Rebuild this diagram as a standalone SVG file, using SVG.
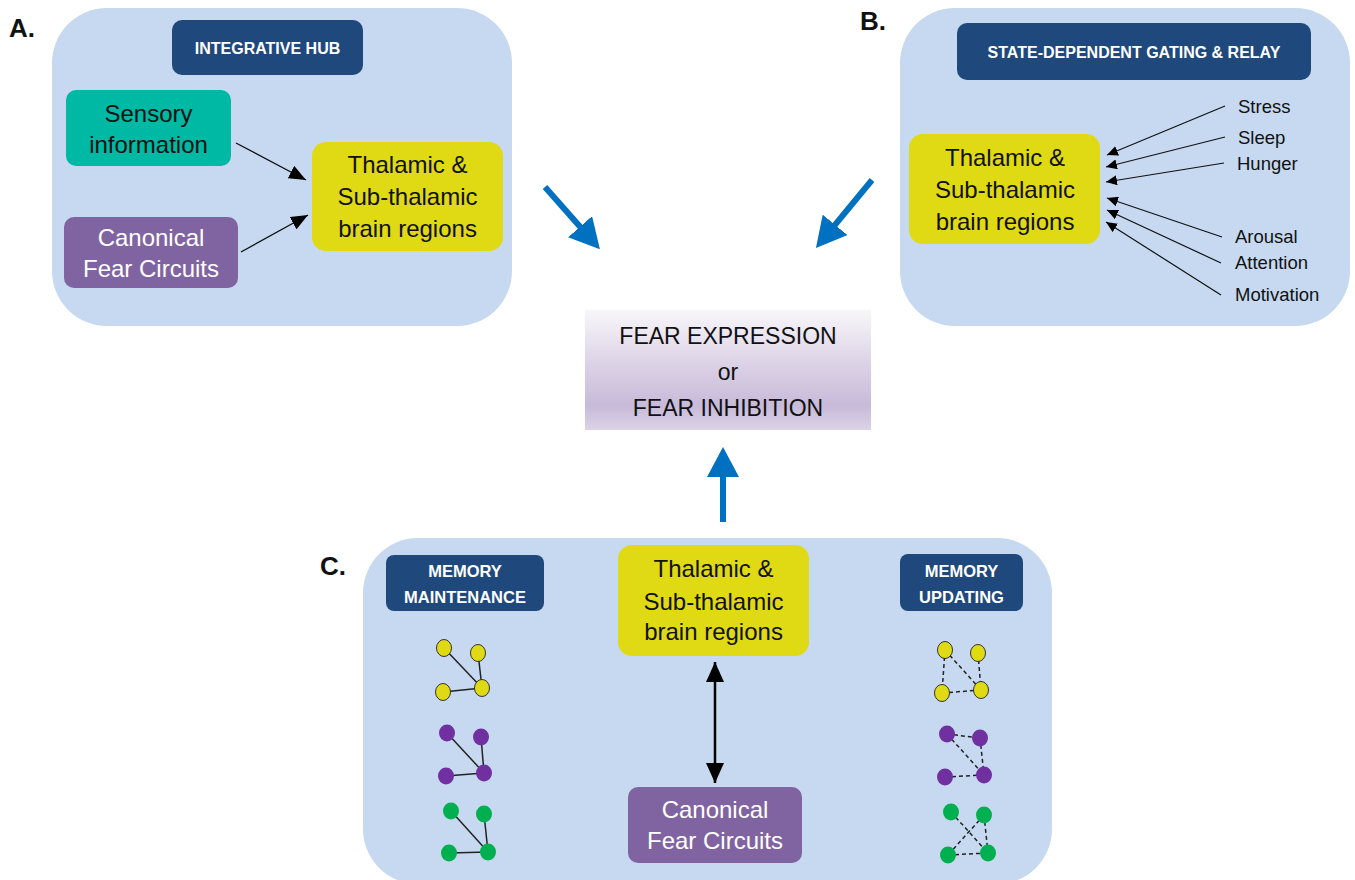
<svg xmlns="http://www.w3.org/2000/svg" width="1355" height="880" viewBox="0 0 1355 880">
<defs>
<style>
text{font-family:"Liberation Sans",Arial,sans-serif;text-anchor:middle}
.panel{fill:#C6D9F0}
.hdr{fill:#1F497D}
.hdrt{fill:#fff;font-weight:bold;font-size:16px}
.hdrc{fill:#fff;font-weight:bold;font-size:16.5px}
.thal{fill:#E0DA14}
.canon{fill:#8064A2}
.sens{fill:#00B9A5}
.big{font-size:24px;fill:#111}
.bigw{font-size:24px;fill:#fff}
.lab{font-size:18.5px;fill:#111;text-anchor:start}
.plab{font-size:26px;font-weight:bold;fill:#111;text-anchor:start}
.ctr{font-size:23px;fill:#111}
.blk{stroke:#111;stroke-width:1.4;fill:none}
.blkB{stroke:#111;stroke-width:1.2;fill:none}
.blue{stroke:#0070C0;stroke-width:6;fill:none}
.dbl{stroke:#000;stroke-width:2.5;fill:none}
.e{stroke:#222;stroke-width:1.5}
.ed{stroke:#222;stroke-width:1.5;stroke-dasharray:4 3}
.ny{fill:#E0DA14;stroke:#333;stroke-width:1}
.np{fill:#7030A0}
.ng{fill:#00B050}
</style>
<marker id="ahA" markerUnits="userSpaceOnUse" markerWidth="18" markerHeight="14" refX="17" refY="7" orient="auto"><path d="M0,0 L17,7 L0,14 z" fill="#000"/></marker>
<marker id="ahB" markerUnits="userSpaceOnUse" markerWidth="12" markerHeight="10" refX="11" refY="5" orient="auto"><path d="M0,0 L11,5 L0,10 z" fill="#000"/></marker>
<marker id="ahBlue" markerUnits="userSpaceOnUse" markerWidth="31" markerHeight="32" refX="15" refY="16" orient="auto"><path d="M0,0 L30,16 L0,32 z" fill="#0070C0"/></marker>
<marker id="ahD" markerUnits="userSpaceOnUse" markerWidth="21" markerHeight="18" refX="20" refY="9" orient="auto-start-reverse"><path d="M0,0 L20,9 L0,18 z" fill="#000"/></marker>
<linearGradient id="gCtr" x1="0" y1="0" x2="0" y2="1">
<stop offset="0" stop-color="#F8F6FA"/>
<stop offset="0.45" stop-color="#DCD2E6"/>
<stop offset="0.8" stop-color="#C8BAD9"/>
<stop offset="1" stop-color="#DCD3E6"/>
</linearGradient>
</defs>
<rect width="1355" height="880" fill="#fff"/>

<g id="panelA">
<rect class="panel" x="52" y="8" width="460" height="318" rx="55"/>
<text class="plab" x="9" y="37">A.</text>
</g>
<g id="panelB">
<rect class="panel" x="900" y="8" width="450" height="318" rx="55"/>
<text class="plab" x="860" y="30">B.</text>
</g>
<g id="panelC">
<rect class="panel" x="363" y="538" width="689" height="346" rx="55"/>
<text class="plab" x="320" y="575">C.</text>
</g>

<g id="hdrA"><rect class="hdr" x="172" y="20" width="191" height="55" rx="10"/><text class="hdrt" x="267.5" y="54">INTEGRATIVE HUB</text></g>
<g id="sensory"><rect class="sens" x="66" y="90" width="165" height="76" rx="10"/><text class="big" x="148.5" y="122">Sensory</text><text class="big" x="148.5" y="153">information</text></g>
<g id="canonA"><rect class="canon" x="64" y="217" width="174" height="71" rx="10"/><text class="bigw" x="151" y="246">Canonical</text><text class="bigw" x="151" y="277">Fear Circuits</text></g>
<g id="thalA"><rect class="thal" x="312" y="142" width="191" height="109" rx="14"/><text class="big" x="407.5" y="173">Thalamic &amp;</text><text class="big" x="407.5" y="205">Sub-thalamic</text><text class="big" x="407.5" y="237">brain regions</text></g>

<g id="hdrB"><rect class="hdr" x="957" y="23" width="354" height="57" rx="10"/><text class="hdrt" x="1134" y="58">STATE-DEPENDENT GATING &amp; RELAY</text></g>
<g id="thalB"><rect class="thal" x="909" y="134" width="191" height="110" rx="14"/><text class="big" x="1005" y="166">Thalamic &amp;</text><text class="big" x="1005" y="198">Sub-thalamic</text><text class="big" x="1005" y="230">brain regions</text></g>
<g id="stress"><text class="lab" x="1238" y="113">Stress</text></g>
<g id="sleep"><text class="lab" x="1238" y="144">Sleep</text></g>
<g id="hunger"><text class="lab" x="1237" y="170">Hunger</text></g>
<g id="arousal"><text class="lab" x="1235" y="243">Arousal</text></g>
<g id="attention"><text class="lab" x="1235" y="269">Attention</text></g>
<g id="motivation"><text class="lab" x="1235" y="301">Motivation</text></g>

<g id="outcome"><rect x="585" y="310" width="286" height="120" fill="url(#gCtr)"/><text class="ctr" x="728" y="344">FEAR EXPRESSION</text><text class="ctr" x="728" y="380">or</text><text class="ctr" x="728" y="416">FEAR INHIBITION</text></g>

<g id="hdrC1"><rect class="hdr" x="386" y="555" width="158" height="56" rx="8"/><text class="hdrc" x="465" y="577">MEMORY</text><text class="hdrc" x="465" y="603">MAINTENANCE</text></g>
<g id="hdrC2"><rect class="hdr" x="900" y="554" width="123" height="57" rx="8"/><text class="hdrc" x="961.5" y="577">MEMORY</text><text class="hdrc" x="961.5" y="603">UPDATING</text></g>
<g id="thalC"><rect class="thal" x="618" y="545" width="191" height="111" rx="14"/><text class="big" x="713.5" y="577">Thalamic &amp;</text><text class="big" x="713.5" y="610">Sub-thalamic</text><text class="big" x="713.5" y="640">brain regions</text></g>
<g id="canonC"><rect class="canon" x="628" y="787" width="174" height="76" rx="10"/><text class="bigw" x="715" y="818">Canonical</text><text class="bigw" x="715" y="849">Fear Circuits</text></g>

<g id="connectors">
<line class="blk" x1="236" y1="143" x2="306" y2="180" marker-end="url(#ahA)"/>
<line class="blk" x1="241" y1="252" x2="308" y2="215" marker-end="url(#ahA)"/>
<line class="blkB" x1="1225" y1="106" x2="1107" y2="155" marker-end="url(#ahB)"/>
<line class="blkB" x1="1225" y1="137" x2="1106" y2="167" marker-end="url(#ahB)"/>
<line class="blkB" x1="1224" y1="163" x2="1106" y2="182" marker-end="url(#ahB)"/>
<line class="blkB" x1="1222" y1="237" x2="1107" y2="198" marker-end="url(#ahB)"/>
<line class="blkB" x1="1221" y1="263" x2="1107" y2="210" marker-end="url(#ahB)"/>
<line class="blkB" x1="1221" y1="295" x2="1106" y2="222" marker-end="url(#ahB)"/>
<line class="blue" x1="545" y1="187" x2="590" y2="238" marker-end="url(#ahBlue)"/>
<line class="blue" x1="872" y1="180" x2="825.5" y2="236.4" marker-end="url(#ahBlue)"/>
<line class="blue" x1="723" y1="522" x2="723" y2="462" marker-end="url(#ahBlue)"/>
<line class="dbl" x1="715" y1="662" x2="715" y2="783" marker-start="url(#ahD)" marker-end="url(#ahD)"/>
</g>

<g id="netMaintain">
<line class="e" x1="444" y1="648" x2="482" y2="688"/><line class="e" x1="478" y1="653" x2="482" y2="688"/><line class="e" x1="443" y1="692" x2="482" y2="688"/>
<ellipse class="ny" cx="444" cy="648" rx="7.5" ry="8.5"/><ellipse class="ny" cx="478" cy="653" rx="7.5" ry="8.5"/><ellipse class="ny" cx="443" cy="692" rx="7.5" ry="8.5"/><ellipse class="ny" cx="482" cy="688" rx="7.5" ry="8.5"/>
<line class="e" x1="447" y1="733" x2="484" y2="773"/><line class="e" x1="481" y1="737" x2="484" y2="773"/><line class="e" x1="446" y1="776" x2="484" y2="773"/>
<ellipse class="np" cx="447" cy="733" rx="8" ry="8.5"/><ellipse class="np" cx="481" cy="737" rx="8" ry="8.5"/><ellipse class="np" cx="446" cy="776" rx="8" ry="8.5"/><ellipse class="np" cx="484" cy="773" rx="8" ry="8.5"/>
<line class="e" x1="451" y1="811" x2="488" y2="852"/><line class="e" x1="484" y1="814" x2="488" y2="852"/><line class="e" x1="449" y1="853" x2="488" y2="852"/>
<ellipse class="ng" cx="451" cy="811" rx="8" ry="8.5"/><ellipse class="ng" cx="484" cy="814" rx="8" ry="8.5"/><ellipse class="ng" cx="449" cy="853" rx="8" ry="8.5"/><ellipse class="ng" cx="488" cy="852" rx="8" ry="8.5"/>
</g>

<g id="netUpdate">
<line class="ed" x1="945" y1="650" x2="942" y2="693"/><line class="ed" x1="945" y1="650" x2="981" y2="690"/><line class="ed" x1="978" y1="653" x2="981" y2="690"/><line class="ed" x1="942" y1="693" x2="981" y2="690"/>
<ellipse class="ny" cx="945" cy="650" rx="7.5" ry="8.5"/><ellipse class="ny" cx="978" cy="653" rx="7.5" ry="8.5"/><ellipse class="ny" cx="942" cy="693" rx="7.5" ry="8.5"/><ellipse class="ny" cx="981" cy="690" rx="7.5" ry="8.5"/>
<line class="ed" x1="947" y1="734" x2="980" y2="738"/><line class="ed" x1="947" y1="734" x2="984" y2="775"/><line class="ed" x1="980" y1="738" x2="984" y2="775"/><line class="ed" x1="945" y1="777" x2="984" y2="775"/>
<ellipse class="np" cx="947" cy="734" rx="8" ry="8.5"/><ellipse class="np" cx="980" cy="738" rx="8" ry="8.5"/><ellipse class="np" cx="945" cy="777" rx="8" ry="8.5"/><ellipse class="np" cx="984" cy="775" rx="8" ry="8.5"/>
<line class="ed" x1="951" y1="812" x2="988" y2="853"/><line class="ed" x1="984" y1="815" x2="948" y2="855"/><line class="ed" x1="984" y1="815" x2="988" y2="853"/><line class="ed" x1="948" y1="855" x2="988" y2="853"/>
<ellipse class="ng" cx="951" cy="812" rx="8" ry="8.5"/><ellipse class="ng" cx="984" cy="815" rx="8" ry="8.5"/><ellipse class="ng" cx="948" cy="855" rx="8" ry="8.5"/><ellipse class="ng" cx="988" cy="853" rx="8" ry="8.5"/>
</g>
</svg>
